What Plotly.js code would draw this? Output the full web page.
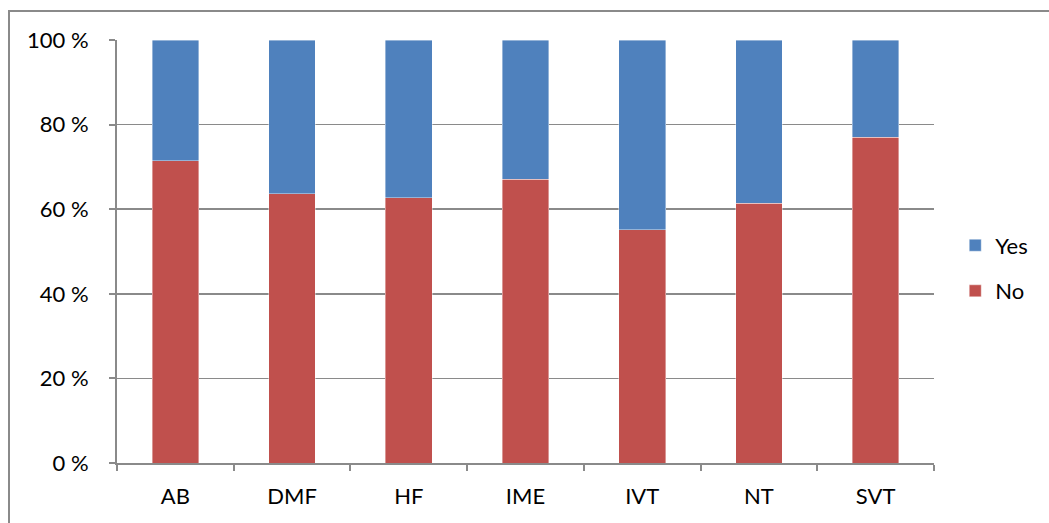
<!DOCTYPE html>
<html>
<head>
<meta charset="utf-8">
<script src="https://cdn.plot.ly/plotly-3.0.1.min.js"></script>
<style>
  html, body { margin: 0; padding: 0; background: #ffffff; overflow: hidden; }
  #chart { position: absolute; left: 0; top: 0; width: 1049px; height: 523px; }
  #frame { position: absolute; left: 8px; top: 10px; width: 1100px; height: 600px;
           border: 2px solid #8a8a8a; pointer-events: none; }
</style>
</head>
<body>
<div id="chart"></div>
<div id="frame"></div>
<script>
const categories = ["AB", "DMF", "HF", "IME", "IVT", "NT", "SVT"];
const noValues  = [71.4, 63.7, 62.7, 67.1, 55.1, 61.4, 77.0];
const yesValues = noValues.map(v => +(100 - v).toFixed(1));
const yTickVals = [0, 20, 40, 60, 80, 100];
const yTickText = ["0 %", "20 %", "40 %", "60 %", "80 %", "100 %"];

const fontFam = "Lato, 'Open Sans', 'DejaVu Sans', sans-serif";

const traces = [
  { type: "bar", name: "No", x: categories, y: noValues,
    marker: { color: "#C0504D", line: { color: "rgba(255,255,255,0.5)", width: 0.8 } },
    legendgroup: "no", legendrank: 2, hoverinfo: "x+y" },
  { type: "bar", name: "Yes", x: categories, y: yesValues,
    marker: { color: "#4F81BD", line: { color: "rgba(255,255,255,0.5)", width: 0.8 } },
    legendgroup: "yes", legendrank: 1, hoverinfo: "x+y" }
];

const layout = {
  width: 1049, height: 523,
  margin: { l: 117, r: 115, t: 40, b: 60 },
  paper_bgcolor: "rgba(0,0,0,0)",
  plot_bgcolor: "rgba(0,0,0,0)",
  barmode: "stack",
  bargap: 0.6,
  font: { family: fontFam, size: 22, color: "#000000" },
  showlegend: true,
  legend: {
    x: 1.026, xanchor: "left", y: 0.46, yanchor: "middle",
    traceorder: "grouped", tracegroupgap: 14,
    font: { family: fontFam, size: 22, color: "#000000" },
    itemwidth: 30, bgcolor: "rgba(0,0,0,0)"
  },
  xaxis: {
    type: "category",
    showline: true, linecolor: "#8a8a8a", linewidth: 2,
    ticks: "outside", ticklen: 6, tickcolor: "#8a8a8a", tickwidth: 2,
    tickson: "boundaries",
    showgrid: false, zeroline: false,
    tickfont: { family: fontFam, size: 22, color: "#000000" },
    ticklabelstandoff: 13
  },
  yaxis: {
    range: [0, 100],
    tickvals: yTickVals, ticktext: yTickText,
    showline: true, linecolor: "#8a8a8a", linewidth: 2,
    ticks: "outside", ticklen: 6, tickcolor: "#8a8a8a", tickwidth: 2,
    showgrid: true, gridcolor: "#8a8a8a", gridwidth: 1.5,
    zeroline: false,
    tickfont: { family: fontFam, size: 22, color: "#000000" },
    ticklabelstandoff: 16
  }
};

Plotly.newPlot("chart", traces, layout, { displayModeBar: false, staticPlot: true });
</script>
</body>
</html>
